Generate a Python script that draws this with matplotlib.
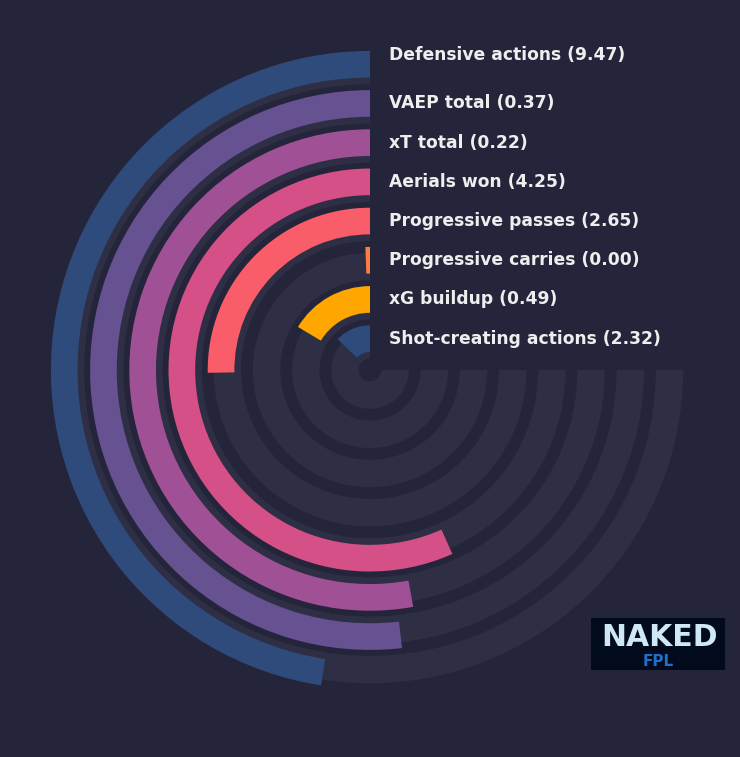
import numpy as np
import matplotlib.pyplot as plt
from matplotlib.transforms import offset_copy
from matplotlib.patches import Rectangle

# metrics, outermost ring first
labels = ["Defensive actions", "VAEP total", "xT total", "Aerials won",
          "Progressive passes", "Progressive carries", "xG buildup",
          "Shot-creating actions"]
values = [9.47, 0.37, 0.22, 4.25, 2.65, 0.00, 0.49, 2.32]
# percentile score of each metric (share of the 270 degree track)
percentiles = [63.4, 69.1, 70.5, 75.6, 33.7, 0.8, 21.9, 17.2]
colors = ["#2f4b7c", "#665191", "#a05195", "#d45087",
          "#f95d6a", "#ff7c43", "#ffa600", "#2f4b7c"]

BG = "#24253a"
TRACK = "#2e2f45"
TEXT = "#eeeeee"
MAX_ANGLE = 1.5 * np.pi

fig = plt.figure(figsize=(7.4, 7.57), dpi=100, facecolor=BG)
ax = fig.add_axes([0.055, 0.0762, 0.890, 0.870], projection="polar")
ax.set_facecolor(BG)
ax.set_theta_zero_location("N")
ax.set_theta_direction(1)
ax.set_ylim(0, 8.4)

n = len(labels)
radii = [0.80 + (n - 1 - i) for i in range(n)]

# background tracks
ax.barh([r - 0.16 for r in radii], [MAX_ANGLE] * n, left=0, height=0.70,
        color=TRACK, edgecolor="none", zorder=1)

# the bars
widths = [p / 100 * MAX_ANGLE for p in percentiles]
ax.barh(radii, widths, left=0, height=0.68, color=colors,
        edgecolor="none", zorder=2)

trans = offset_copy(ax.transData, fig=fig, x=19, y=0, units="dots")
for i, (lab, val, r) in enumerate(zip(labels, values, radii)):
    dy = 0.23 if i == 0 else 0.0
    ax.text(0, r + dy, f"{lab} ({val:.2f})", transform=trans,
            ha="left", va="center", color=TEXT, fontsize=12.3,
            fontweight="bold", zorder=3)

ax.grid(False)
ax.set_xticks([])
ax.set_yticks([])
ax.spines["polar"].set_visible(False)

# logo badge
fig.patches.append(Rectangle((591 / 740, 1 - 670 / 757), 134 / 740, 52 / 757,
                             transform=fig.transFigure, facecolor="#020b1c",
                             edgecolor="none", zorder=5))
fig.text(659 / 740, 1 - 637 / 757, "NAKED", color="#cfe8f7", fontsize=21.5,
         fontweight="bold", ha="center", va="center", zorder=6)
fig.text(658 / 740, 1 - 661 / 757, "FPL", color="#1f6fd0", fontsize=11,
         fontweight="bold", ha="center", va="center", zorder=6)
fig.lines.append(plt.Line2D([596 / 740, 642 / 740], [1 - 661 / 757] * 2,
                            transform=fig.transFigure, color="#1f6fd0", lw=0.8))
fig.lines.append(plt.Line2D([675 / 740, 722 / 740], [1 - 661 / 757] * 2,
                            transform=fig.transFigure, color="#1f6fd0", lw=0.8))

fig.savefig("out.png", dpi=100, facecolor=BG)
